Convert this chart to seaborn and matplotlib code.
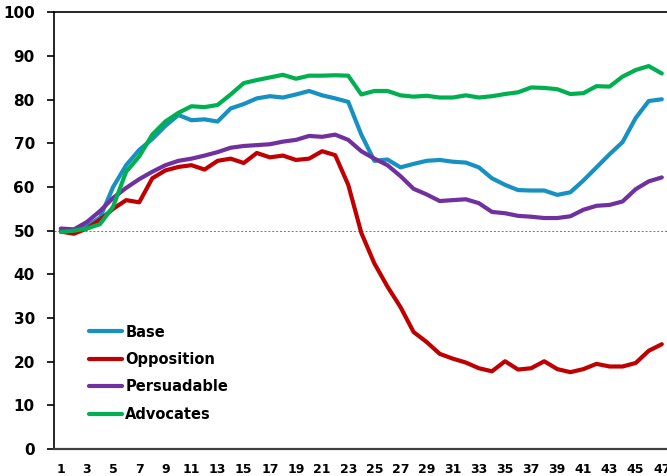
import numpy as np
import pandas as pd
import matplotlib
matplotlib.use("Agg")
import matplotlib.pyplot as plt
import seaborn as sns

weeks = list(range(1, 48))
base = [50, 50, 51, 53, 60, 65, 68.5, 71, 74, 76.5, 75.3, 75.5, 75, 78, 79, 80.3, 80.8, 80.5, 81.2, 82,
        81, 80.3, 79.5, 72, 66, 66.3, 64.5, 65.3, 66, 66.2, 65.8, 65.6, 64.5, 62, 60.5, 59.3, 59.2, 59.2,
        58.2, 58.8, 61.5, 64.5, 67.5, 70.3, 75.8, 79.7, 80.1]
opposition = [49.8, 49.3, 50.5, 52.5, 55, 57, 56.5, 62, 63.8, 64.6, 65, 64, 66, 66.5, 65.5, 67.8, 66.8,
              67.2, 66.2, 66.5, 68.2, 67.3, 60.5, 49.5, 42.5, 37.2, 32.5, 26.8, 24.5, 21.8, 20.7, 19.8,
              18.5, 17.8, 20.1, 18.2, 18.5, 20.1, 18.3, 17.6, 18.3, 19.5, 18.9, 18.9, 19.7, 22.5, 24]
persuadable = [50.5, 50.3, 52, 54.5, 57.5, 59.8, 61.8, 63.5, 65, 66, 66.5, 67.2, 68, 69, 69.4, 69.6, 69.8,
               70.4, 70.8, 71.7, 71.5, 72, 70.8, 68.2, 66.5, 65, 62.5, 59.6, 58.3, 56.8, 57, 57.2, 56.3,
               54.3, 54, 53.4, 53.2, 52.9, 52.9, 53.3, 54.8, 55.7, 55.9, 56.7, 59.5, 61.3, 62.2]
advocates = [49.7, 50, 50.5, 51.5, 55.5, 63.5, 67, 72, 75, 77, 78.5, 78.3, 78.8, 81.2, 83.8, 84.5, 85.1,
             85.7, 84.8, 85.5, 85.5, 85.6, 85.5, 81.2, 82, 82, 81, 80.7, 80.9, 80.5, 80.5, 81, 80.5, 80.8,
             81.3, 81.7, 82.8, 82.7, 82.4, 81.3, 81.5, 83.1, 83, 85.3, 86.8, 87.7, 86]
series_names = ["Base", "Opposition", "Persuadable", "Advocates"]
colors = ["#1790c2", "#c00000", "#7030a0", "#00b050"]
y_ticks = list(range(0, 101, 10))
x_ticks = list(range(1, 48, 2))

frames = []
for name, vals in zip(series_names, [base, opposition, persuadable, advocates]):
    frames.append(pd.DataFrame({"week": weeks, "value": vals, "series": name}))
df = pd.concat(frames, ignore_index=True)

sns.set_style("white")
plt.rcParams['font.family'] = ['DejaVu Sans']

fig = plt.figure(figsize=(6.67, 4.76), dpi=100)
ax = fig.add_axes([0.0814, 0.0567, 0.9206, 0.9173])

ax.axhline(50, color="#777777", lw=0.7, ls=(0, (2, 2)), zorder=1)
sns.lineplot(data=df, x="week", y="value", hue="series", hue_order=series_names,
             palette=colors, linewidth=3.0, ax=ax, legend=False, zorder=3)

ax.set_xlim(0.5, 47.5)
ax.set_ylim(0, 100)
ax.set_yticks(y_ticks)
ax.set_xticks(x_ticks)
ax.set_xlabel("")
ax.set_ylabel("")

for s in ["left", "bottom", "top"]:
    ax.spines[s].set_visible(True)
    ax.spines[s].set_linewidth(1.2)
ax.spines["left"].set_color("black")
ax.spines["top"].set_color("black")
ax.spines["bottom"].set_color("#404040")
ax.spines["bottom"].set_linewidth(1.6)
ax.spines["right"].set_visible(False)

ax.tick_params(axis="y", direction="out", length=5, width=1.2, color="black", pad=9,
               labelsize=11, left=True, labelcolor="black")
ax.tick_params(axis="x", length=0, pad=10, labelsize=9, labelcolor="black")
ax.set_yticklabels([str(v) for v in y_ticks], fontweight="bold")
ax.set_xticklabels([str(v) for v in x_ticks], fontweight="bold")

from matplotlib.lines import Line2D
handles = [Line2D([0], [0], color=c, lw=3.0) for c in colors]
leg = ax.legend(handles, series_names, loc="upper left", bbox_to_anchor=(0.035, 0.315),
                frameon=False, prop={"weight": "bold", "size": 10.5},
                handlelength=2.3, handletextpad=0.2, labelspacing=0.85, labelcolor="black")

fig.savefig("out.png", dpi=100)
